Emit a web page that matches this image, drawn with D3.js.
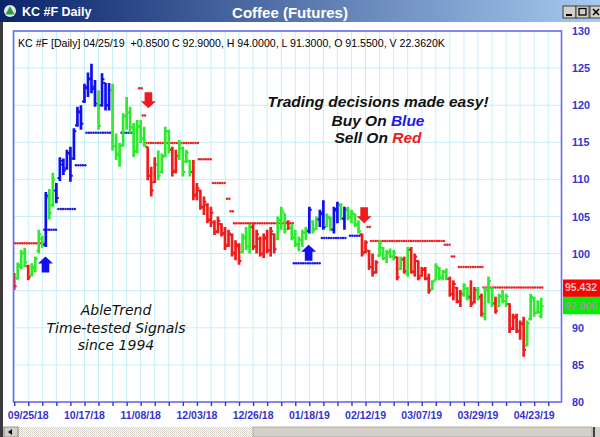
<!DOCTYPE html>
<html><head><meta charset="utf-8">
<script src="https://cdn.jsdelivr.net/npm/d3@7"></script>
<style>body{margin:0;background:#fff;overflow:hidden}svg{display:block}</style>
</head><body><svg id="c" width="600" height="437"></svg>
<script>
// ---- data (bar index 0 = 09/19/18 ... 150 = 04/25/19) ----
const highs=[97.4,98.8,100.5,100.8,98.5,98.7,99.6,103.2,102.4,108.3,108.7,110.9,109.5,113.0,112.8,114.0,114.4,116.9,119.8,120.0,
122.9,124.4,125.6,123.4,122.0,124.3,123.0,123.0,122.9,116.2,114.9,118.9,121.1,119.8,117.6,118.0,118.0,117.1,114.4,111.7,
113.0,113.9,113.5,117.1,116.7,114.4,114.0,115.3,114.4,114.0,112.6,112.6,109.5,108.6,107.7,106.8,106.3,104.5,105.0,104.1,
103.6,103.2,102.7,101.8,101.4,102.7,103.6,104.0,104.0,103.2,102.3,102.7,103.2,103.6,102.7,105.0,106.3,105.4,104.5,104.0,
103.2,102.3,103.2,103.6,106.3,104.5,105.0,105.9,107.2,105.4,105.0,106.3,107.0,106.8,106.3,106.3,105.9,105.4,104.5,102.7,
101.8,100.5,100.0,99.1,101.8,100.9,100.5,100.7,100.5,99.6,99.6,99.6,100.9,100.9,100.0,99.1,98.2,98.2,97.3,96.4,
98.7,98.2,97.8,98.0,96.9,96.4,95.5,95.1,96.0,95.5,96.4,95.5,95.5,94.6,95.5,96.9,95.5,94.2,94.6,95.1,
94.6,93.3,91.9,91.9,91.0,91.5,91.0,94.6,94.2,93.7,94.0];
const lows=[95.1,96.5,97.9,98.2,96.4,96.9,97.5,100.0,100.8,100.9,104.6,106.3,106.8,109.8,110.6,111.3,109.7,112.6,117.1,116.7,
120.3,121.1,121.6,119.8,116.7,119.8,119.3,119.3,113.9,112.6,111.7,114.4,116.7,116.2,113.0,113.5,114.9,114.4,109.9,107.7,
109.5,109.9,110.8,113.0,113.5,110.4,110.8,112.6,110.4,112.2,110.4,107.2,107.2,105.9,105.2,104.1,103.6,102.5,102.7,102.3,
100.5,100.9,99.6,99.1,98.5,100.0,100.5,100.0,100.5,100.0,99.6,99.4,100.0,99.6,100.0,101.8,103.2,102.7,103.2,101.8,
100.9,100.3,100.9,101.8,102.7,102.7,103.2,103.6,103.2,103.6,103.0,102.7,104.1,104.5,103.2,104.5,104.1,103.6,102.7,99.6,
100.0,97.8,96.9,97.3,99.6,99.1,98.7,99.4,99.1,96.4,97.8,97.3,96.9,97.3,96.9,96.4,96.9,96.4,94.6,95.1,
96.4,96.4,96.4,96.4,94.2,93.7,93.3,92.8,94.2,93.7,92.8,93.3,93.7,91.5,91.0,93.3,92.8,91.9,92.8,93.3,
92.8,89.3,89.7,89.3,88.4,86.1,87.5,91.0,91.5,91.9,91.3];
const opens=[97.0,96.6,98.2,100.0,98.3,97.1,98.0,100.4,102.0,101.2,107.5,106.5,108.5,110.2,112.0,111.5,113.5,112.8,117.3,119.0,
120.5,122.3,123.5,122.5,120.0,120.0,123.0,120.0,122.0,114.5,113.3,114.6,118.5,119.0,117.0,113.8,117.0,115.5,114.4,110.5,
109.6,112.0,111.0,113.2,116.5,114.0,111.2,113.0,114.2,112.4,112.5,111.0,108.0,108.5,106.2,106.6,104.6,104.2,103.0,104.0,
102.8,101.2,102.5,100.0,101.0,100.2,102.0,101.0,103.6,101.0,102.0,100.0,102.0,100.5,102.6,102.0,104.5,105.5,104.2,103.5,
102.2,101.2,101.8,102.8,103.0,104.3,103.3,104.6,105.3,103.8,104.8,103.2,105.8,106.5,104.7,105.8,104.9,105.3,104.0,102.6,
100.2,100.4,98.2,97.5,99.7,100.8,99.4,100.0,99.6,99.5,97.9,99.2,97.3,100.5,97.5,99.0,97.0,97.8,96.7,95.2,
96.4,98.0,96.7,97.5,96.6,94.5,95.4,93.5,94.4,95.3,94.2,93.4,95.0,94.2,91.5,95.0,95.3,93.3,92.9,94.2,
93.6,93.2,89.9,91.5,89.5,90.5,87.6,91.2,94.0,92.1,91.55];
const closes=[95.6,98.5,100.1,98.8,96.8,98.2,99.3,102.6,101.2,107.8,105.5,110.0,107.5,112.5,111.2,113.6,110.5,116.5,119.2,117.5,
122.5,123.6,122.2,120.2,117.2,123.5,120.0,122.0,114.5,113.5,114.5,118.5,119.0,117.0,113.8,117.2,115.5,114.8,110.5,108.5,
112.0,110.5,113.0,116.5,114.0,111.0,113.2,114.8,111.0,113.6,111.0,107.8,108.8,106.3,107.0,104.5,105.5,102.9,104.4,102.6,
101.0,102.7,100.1,101.2,99.0,102.3,101.0,103.6,100.9,102.6,99.9,102.2,100.4,103.0,100.6,104.6,105.8,103.2,103.4,102.1,
101.3,101.9,102.8,103.2,105.9,103.1,104.7,105.5,103.6,105.0,103.3,106.0,106.6,104.8,105.9,104.9,105.5,103.8,103.0,100.0,
101.5,98.2,97.4,98.8,101.4,99.4,100.2,99.6,100.1,96.8,99.3,97.6,100.6,97.6,99.6,96.7,97.9,96.6,95.0,96.2,
98.3,96.8,97.6,96.6,94.6,95.9,93.6,94.6,95.7,94.0,93.2,95.1,94.0,91.9,95.1,96.3,93.2,92.3,94.3,93.6,
94.2,89.8,91.4,89.6,90.6,87.0,90.6,94.2,92.0,92.05,92.9];
const signals=("RGGGRGGGGB"+"GGBBBBBBBB"+"BBBBGBBBGG"+"GGGGGGGGRR"+"RGGGGRRGGG"+
"GRRRRRRRRR"+"RRRRRGGGRR"+"RRRRRGGGRG"+"GGGGBGGBBG"+"GBBGBGGGGR"+
"RRRRGGGGGR"+"GRGRRRRRRG"+"GGGGRRRRGG"+"RRGRGGGRGG"+"GRRRRRGGGG"+"G").split("");
// trailing stop runs
const stopStart=[0,9,13,18,21,31,36,37,38,53,57,61,62,63,80,88,96,101,102,123,125,127,134];
const stopEnd  =[8,12,17,20,27,34,36,37,52,56,60,61,62,79,87,94,99,101,122,124,125,133,150];
const stopLevel=[101.4,103.2,106.0,111.9,116.3,116.3,122.3,118.6,114.9,112.7,109.5,107.4,105.7,104.1,98.7,102.1,102.4,103.6,101.7,101.2,99.6,98.2,95.432];
const stopColor=["R","B","B","B","B","B","R","R","R","R","R","R","R","R","B","B","B","R","R","R","R","R","R"];
// signal arrows
const arrowIndex=[8.9,38.2,83.8,99.6];
const arrowTip=[99.6,119.6,101.2,104.1];
const arrowDir=["up","down","up","down"];
// axes
const yTicks=[80,85,90,95,100,105,110,115,120,125,130];
const tickLabels=["09/25/18","10/17/18","11/08/18","12/03/18","12/26/18","01/18/19","02/12/19","03/07/19","03/29/19","04/23/19"];
const tickLabelIndex=[4,20,36,52,68,84,100,116,132,148];
const lastStop=95.432, lastClose=92.900;

// ---- drawing ----
const svg=d3.select("#c");
const L=13.5,R=561.5,T=31,B=402;
const x=d3.scaleLinear().domain([0,150]).range([14.2,541.2]);
const y=d3.scaleLinear().domain([80,130]).range([B,T]);
const col={B:"#1010ee",G:"#2eea2e",R:"#ee1c1c"};
const font="'Liberation Sans',Arial,sans-serif";

const defs=svg.append("defs");
const grad=defs.append("linearGradient").attr("id","tg");
grad.append("stop").attr("offset","0").attr("stop-color","#0a246a");
grad.append("stop").attr("offset","1").attr("stop-color","#a6caf0");
const pat=defs.append("pattern").attr("id","hatch").attr("width",2).attr("height",2).attr("patternUnits","userSpaceOnUse");
pat.append("rect").attr("width",2).attr("height",2).attr("fill","#fff");
pat.append("rect").attr("width",1).attr("height",1).attr("fill","#d4d0c8");
pat.append("rect").attr("x",1).attr("y",1).attr("width",1).attr("height",1).attr("fill","#d4d0c8");
defs.append("clipPath").attr("id","pc").append("rect").attr("x",L).attr("y",T).attr("width",R-L).attr("height",B-T);

// title bar
svg.append("rect").attr("x",0).attr("y",0).attr("width",600).attr("height",22).attr("fill","url(#tg)");
svg.append("circle").attr("cx",10).attr("cy",11).attr("r",6).attr("fill","#e8e8e8");
svg.append("path").attr("d","M10,6 L14.5,14.5 L5.5,14.5 Z").attr("fill","#2a9a3a");
svg.append("text").attr("x",22).attr("y",16).attr("fill","#fff").attr("font-family",font).attr("font-weight","bold").attr("font-size",12.5).text("KC #F Daily");
svg.append("text").attr("x",290).attr("y",17.5).attr("text-anchor","middle").attr("fill","#fff").attr("font-family",font).attr("font-weight","bold").attr("font-size",15).text("Coffee (Futures)");
[[563,"min"],[576,"max"],[590,"close"]].forEach(([bx,k])=>{
  svg.append("rect").attr("x",bx).attr("y",6).attr("width",13).attr("height",12).attr("fill","#d4d0c8").attr("stroke","#404040").attr("stroke-width",1);
  if(k==="min") svg.append("rect").attr("x",bx+3).attr("y",14).attr("width",6).attr("height",2).attr("fill","#000");
  if(k==="max") svg.append("rect").attr("x",bx+3).attr("y",8.5).attr("width",7).attr("height",6.5).attr("fill","none").attr("stroke","#000").attr("stroke-width",1.3);
  if(k==="close") svg.append("path").attr("d",`M${bx+3},9 L${bx+9},15 M${bx+9},9 L${bx+3},15`).attr("stroke","#000").attr("stroke-width",1.5);
});
svg.append("rect").attr("x",0).attr("y",22).attr("width",3).attr("height",415).attr("fill","#3a3a3a");

// grid
const g=svg.append("g").attr("clip-path","url(#pc)");
const vIdx=d3.range(0,153,4);
g.selectAll(".vg").data(vIdx).join("line").attr("x1",d=>x(d)).attr("x2",d=>x(d)).attr("y1",T).attr("y2",B).attr("stroke","#c6f0f6").attr("stroke-width",1);
g.selectAll(".hg").data(yTicks).join("line").attr("x1",L).attr("x2",R).attr("y1",d=>y(d)).attr("y2",d=>y(d)).attr("stroke","#c6f0f6").attr("stroke-width",1);

// texts in plot
svg.append("text").attr("x",18).attr("y",47).attr("font-family",font).attr("font-size",10.6).attr("fill","#000").attr("xml:space","preserve")
  .text("KC #F [Daily] 04/25/19  +0.8500 C 92.9000, H 94.0000, L 91.3000, O 91.5500, V 22.3620K");
const tx=378;
svg.append("text").attr("x",tx).attr("y",107).attr("text-anchor","middle").attr("font-family",font).attr("font-weight","bold").attr("font-style","italic").attr("font-size",15.5).attr("fill","#111").text("Trading decisions made easy!");
const t2=svg.append("text").attr("x",tx).attr("y",126).attr("text-anchor","middle").attr("font-family",font).attr("font-weight","bold").attr("font-style","italic").attr("font-size",15.5).attr("fill","#111");
t2.append("tspan").text("Buy On ");t2.append("tspan").attr("fill","#1a1aee").text("Blue");
const t3=svg.append("text").attr("x",tx).attr("y",143).attr("text-anchor","middle").attr("font-family",font).attr("font-weight","bold").attr("font-style","italic").attr("font-size",15.5).attr("fill","#111");
t3.append("tspan").text("Sell On ");t3.append("tspan").attr("fill","#ee1c1c").text("Red");
["AbleTrend","Time-tested Signals","since 1994"].forEach((s,k)=>{
  svg.append("text").attr("x",116).attr("y",315+k*17.5).attr("text-anchor","middle").attr("font-family","'DejaVu Sans',sans-serif").attr("font-style","italic").attr("font-size",14).attr("fill","#111").text(s);
});

// stops
const dots=[];
stopStart.forEach((s,k)=>{
  const x0=x(s)-1.5,x1=x(stopEnd[k])+1.5;
  for(let xx=x0;xx<=x1+0.01;xx+=2.35) dots.push({x:xx,v:stopLevel[k],c:stopColor[k]});
});
g.selectAll(".dot").data(dots).join("circle").attr("cx",d=>d.x).attr("cy",d=>y(d.v)).attr("r",1.25).attr("fill",d=>d.c==="B"?"#1a1ae6":"#ee2222");

// bars
const idx=d3.range(highs.length);
const bars=g.selectAll(".bar").data(idx).join("g").attr("stroke",i=>col[signals[i]]);
bars.append("line").attr("x1",i=>x(i)).attr("x2",i=>x(i)).attr("y1",i=>y(highs[i])).attr("y2",i=>y(lows[i])).attr("stroke-width",2.7);
bars.append("line").attr("x1",i=>x(i)-2.4).attr("x2",i=>x(i)).attr("y1",i=>y(opens[i])).attr("y2",i=>y(opens[i])).attr("stroke-width",2);
bars.append("line").attr("x1",i=>x(i)).attr("x2",i=>x(i)+2.4).attr("y1",i=>y(closes[i])).attr("y2",i=>y(closes[i])).attr("stroke-width",2);

// arrows
arrowIndex.forEach((ai,k)=>{
  const cx=x(ai),ty=y(arrowTip[k]);
  const s=arrowDir[k]==="up"?1:-1;
  const p=[[cx,ty],[cx+7.5,ty+7*s],[cx+3.8,ty+7*s],[cx+3.8,ty+16*s],[cx-3.8,ty+16*s],[cx-3.8,ty+7*s],[cx-7.5,ty+7*s]];
  svg.append("path").attr("d","M"+p.map(q=>q.join(",")).join("L")+"Z").attr("fill",arrowDir[k]==="up"?"#1010ee":"#ee1c1c");
});

// frame
svg.append("rect").attr("x",L).attr("y",T).attr("width",R-L).attr("height",B-T).attr("fill","none").attr("stroke","#6a6aee").attr("stroke-width",1.6);

// right axis (labels hidden under the last-value boxes are not drawn)
const ys=y(lastStop),yc=y(lastClose);
const mid=(ys+yc)/2, boxTop=ys-8, boxBot=yc+8;
const shown=yTicks.filter(d=>y(d)+4<boxTop||y(d)-4>boxBot);
svg.selectAll(".yl").data(shown).join("text").attr("x",572).attr("y",d=>y(d)+4).attr("font-family",font).attr("font-weight","bold").attr("font-size",10.8).attr("fill","#3434d4").text(d=>d);
svg.append("rect").attr("x",563).attr("y",boxTop).attr("width",37).attr("height",mid-boxTop).attr("fill","#ff0000");
svg.append("rect").attr("x",563).attr("y",mid).attr("width",37).attr("height",boxBot-mid).attr("fill","#00ee00");
svg.append("text").attr("x",565).attr("y",ys+4).attr("font-family",font).attr("font-weight","bold").attr("font-size",10.5).attr("fill","#d8c8c8").text(lastStop.toFixed(3));
svg.append("text").attr("x",565).attr("y",yc+4).attr("font-family",font).attr("font-weight","bold").attr("font-size",10.5).attr("fill","#9a9a9a").text(lastClose.toFixed(3));

// bottom axis
const xAxis=d3.axisBottom(x).tickValues(vIdx).tickSize(4).tickFormat("");
const ax=svg.append("g").attr("transform",`translate(0,${B})`).call(xAxis);
ax.select(".domain").remove();
ax.selectAll(".tick line").attr("stroke","#3434d4").attr("stroke-width",1.4);
svg.selectAll(".xl").data(tickLabelIndex).join("text").attr("x",i=>x(i)).attr("y",419).attr("text-anchor","middle").attr("font-family",font).attr("font-weight","bold").attr("font-size",10.5).attr("fill","#3434d4").text((d,k)=>tickLabels[k]);

// scrollbar
svg.append("rect").attr("x",3).attr("y",427).attr("width",597).attr("height",10).attr("fill","#d4d0c8");
svg.append("rect").attr("x",19).attr("y",427).attr("width",234).attr("height",10).attr("fill","url(#hatch)");
svg.append("rect").attr("x",4).attr("y",427).attr("width",14).attr("height",10).attr("fill","#d4d0c8").attr("stroke","#808080").attr("stroke-width",0.8);
svg.append("path").attr("d","M8,432 L12,429 L12,435Z").attr("fill","#000");
svg.append("rect").attr("x",253).attr("y",427).attr("width",339).attr("height",10).attr("fill","#d4d0c8").attr("stroke","#a0a0a0").attr("stroke-width",0.8);
svg.append("rect").attr("x",593).attr("y",427).attr("width",2).attr("height",10).attr("fill","#404040");
</script></body></html>
